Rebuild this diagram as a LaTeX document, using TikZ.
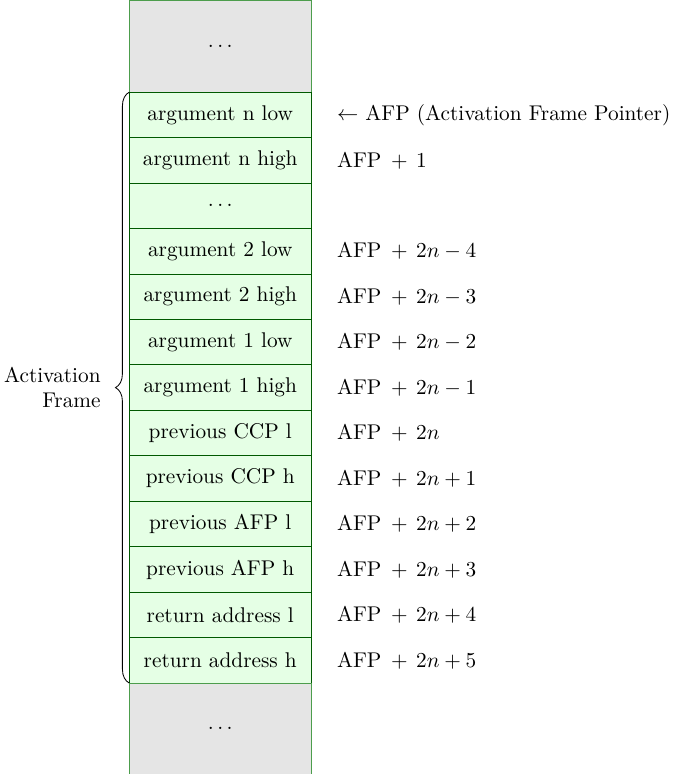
\documentclass[tikz,border=0pt]{standalone}
\usetikzlibrary{decorations.pathreplacing}
\newcommand\afpoff[1]{AFP\hspace{4.5pt}+\hspace{4pt}$#1$}
\begin{document}
\begin{tikzpicture}[
  cell/.style={draw=green!35!black, fill=green!10, minimum width=3cm,
               minimum height=0.75cm, inner sep=0pt, outer sep=0pt, anchor=north west},
  gapbox/.style={draw=green!45!black!70, fill=black!10, minimum width=3cm,
               inner sep=0pt, outer sep=0pt, anchor=north west},
  addr/.style={anchor=west, inner sep=0pt}
]
\useasboundingbox (-2.134,0) rectangle (9.055,-12.77);

% memory above the frame
\node[gapbox, minimum height=1.52cm] (top) at (0,0) {$\ldots$};

% the activation frame, one word per cell
\foreach \t [count=\i from 0] in {
  argument n low, argument n high, $\ldots$,
  argument 2 low, argument 2 high, argument 1 low, argument 1 high,
  previous CCP l, previous CCP h, previous AFP l, previous AFP h,
  return address l, return address h}
  \node[cell] (r\i) at (0,{-1.52-0.75*\i}) {\t};

% memory below the frame
\node[gapbox, minimum height=1.5cm] (bot) at (r12.south west) {$\ldots$};

% addresses relative to the frame pointer
\node[addr] (a0) at ([xshift=0.42cm]r0.east) {$\leftarrow$ AFP (Activation Frame Pointer)};
\node[addr] (a1) at ([xshift=0.42cm]r1.east) {\afpoff{1}};
\node[addr] (a3) at ([xshift=0.42cm]r3.east) {\afpoff{2n-4}};
\node[addr] (a4) at ([xshift=0.42cm]r4.east) {\afpoff{2n-3}};
\node[addr] (a5) at ([xshift=0.42cm]r5.east) {\afpoff{2n-2}};
\node[addr] (a6) at ([xshift=0.42cm]r6.east) {\afpoff{2n-1}};
\node[addr] (a7) at ([xshift=0.42cm]r7.east) {\afpoff{2n}};
\node[addr] (a8) at ([xshift=0.42cm]r8.east) {\afpoff{2n+1}};
\node[addr] (a9) at ([xshift=0.42cm]r9.east) {\afpoff{2n+2}};
\node[addr] (a10) at ([xshift=0.42cm]r10.east) {\afpoff{2n+3}};
\node[addr] (a11) at ([xshift=0.42cm]r11.east) {\afpoff{2n+4}};
\node[addr] (a12) at ([xshift=0.42cm]r12.east) {\afpoff{2n+5}};

% brace marking the whole frame
\draw[decorate, decoration={brace, amplitude=6.5pt}] (r12.south west) -- (r0.north west);
\node[anchor=east, align=right, inner sep=0pt] (frame) at (-0.467,-6.395) {Activation\\Frame};
\end{tikzpicture}
\end{document}
